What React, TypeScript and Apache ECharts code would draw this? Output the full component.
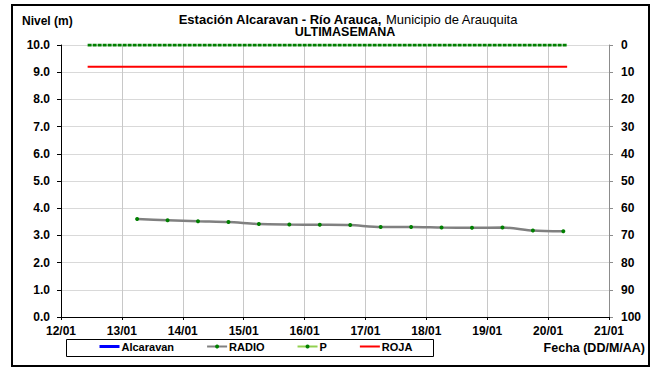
import React, { useEffect, useRef } from "react";
import * as echarts from "echarts";

const xTickLabels = ["12/01", "13/01", "14/01", "15/01", "16/01", "17/01", "18/01", "19/01", "20/01", "21/01"];
const radioTimes = [
  "13/01 06:00", "13/01 18:00", "14/01 06:00", "14/01 18:00", "15/01 06:00",
  "15/01 18:00", "16/01 06:00", "16/01 18:00", "17/01 06:00", "17/01 18:00",
  "18/01 06:00", "18/01 18:00", "19/01 06:00", "19/01 18:00", "20/01 06:00",
];
const radioValues = [3.6, 3.56, 3.52, 3.49, 3.42, 3.4, 3.39, 3.38, 3.31, 3.31, 3.29, 3.28, 3.29, 3.18, 3.15];
const alcaravanTimes: string[] = [];
const alcaravanValues: number[] = [];
const pTimes = ["12/01 10:30", "20/01 07:30"];
const pValues = [0, 0];
const rojaTimes = ["12/01 10:30", "20/01 07:30"];
const rojaValues = [9.2, 9.2];

const FONT = "Liberation Sans, Arial, sans-serif";

function toDay(s: string): number {
  const [d, t] = s.split(" ");
  const day = parseInt(d.split("/")[0], 10);
  const [h, m] = t.split(":").map((v) => parseInt(v, 10));
  return day + (h + m / 60) / 24;
}
function pairs(times: string[], vals: number[]) {
  return times.map((t, i) => [toDay(t), vals[i]]);
}

export default function App() {
  const ref = useRef<HTMLDivElement>(null);
  useEffect(() => {
    document.body.style.margin = "0";
    const chart = echarts.init(ref.current!, null, { renderer: "svg" });
    const labelStyle = { color: "#000", fontWeight: "bold" as const, fontSize: 12, fontFamily: FONT };
    chart.setOption({
      animation: false,
      backgroundColor: "#fff",
      grid: { left: 61, right: 49, top: 45, bottom: 52 },
      xAxis: {
        type: "value",
        min: 12,
        max: 21,
        interval: 1,
        axisLine: { lineStyle: { color: "#000", width: 1 } },
        axisTick: { show: true, length: 3, lineStyle: { color: "#000" } },
        axisLabel: {
          ...labelStyle,
          margin: 8,
          formatter: (v: number) => xTickLabels[Math.round(v) - 12] ?? "",
        },
        splitLine: { show: true, lineStyle: { color: "#c8c8c8", width: 1 } },
      },
      yAxis: [
        {
          type: "value",
          min: 0,
          max: 10,
          interval: 1,
          axisLine: { show: true, lineStyle: { color: "#000", width: 1 } },
          axisTick: { show: true, length: 4, lineStyle: { color: "#000" } },
          axisLabel: { ...labelStyle, margin: 11, formatter: (v: number) => v.toFixed(1) },
          splitLine: { show: true, lineStyle: { color: "#d9d9d9", width: 1 } },
        },
        {
          type: "value",
          min: 0,
          max: 100,
          interval: 10,
          inverse: true,
          position: "right",
          axisLine: { show: true, lineStyle: { color: "#8c8c8c", width: 1 } },
          axisTick: { show: true, length: 4, lineStyle: { color: "#8c8c8c" } },
          axisLabel: { ...labelStyle, margin: 12 },
          splitLine: { show: false },
        },
      ],
      legend: {
        left: 98,
        top: 341,
        orient: "horizontal",
        padding: 0,
        itemGap: 32,
        itemWidth: 20,
        itemHeight: 5,
        textStyle: { color: "#000", fontWeight: "bold", fontSize: 11, fontFamily: FONT, padding: [0, 0, 0, -3] },
        data: [
          { name: "Alcaravan", itemStyle: { opacity: 0 }, lineStyle: { color: "#0000ff", width: 3 } },
          { name: "RADIO" },
          { name: "P", lineStyle: { color: "#92d050", type: "solid", width: 2 }, itemStyle: { color: "#008000" } },
          { name: "ROJA", itemStyle: { opacity: 0 }, lineStyle: { color: "#ff0000", width: 2 } },
        ],
      },
      series: [
        {
          name: "Alcaravan",
          type: "line",
          data: pairs(alcaravanTimes, alcaravanValues),
          symbol: "none",
          lineStyle: { color: "#0000ff", width: 3 },
          itemStyle: { color: "#0000ff" },
        },
        {
          name: "RADIO",
          type: "line",
          data: pairs(radioTimes, radioValues),
          smooth: 0.25,
          symbol: "circle",
          symbolSize: 4,
          lineStyle: { color: "#808080", width: 2.5 },
          itemStyle: { color: "#008000" },
          z: 3,
        },
        {
          name: "P",
          type: "line",
          yAxisIndex: 1,
          data: pairs(pTimes, pValues),
          showSymbol: false,
          symbol: "circle",
          symbolSize: 4,
          lineStyle: { color: "#008000", width: 3, type: [4, 1] },
          itemStyle: { color: "#008000" },
          z: 4,
        },
        {
          name: "ROJA",
          type: "line",
          data: pairs(rojaTimes, rojaValues),
          symbol: "none",
          lineStyle: { color: "#ff0000", width: 2 },
          itemStyle: { color: "#ff0000" },
        },
      ],
      graphic: [
        {
          type: "rect",
          shape: { x: 12, y: 5, width: 637, height: 361 },
          style: { fill: "none", stroke: "#000", lineWidth: 2 },
          silent: true,
        },
        {
          type: "rect",
          shape: { x: 66.5, y: 339.5, width: 367, height: 17 },
          style: { fill: "none", stroke: "#000", lineWidth: 1 },
          silent: true,
        },
        {
          type: "text",
          x: 22,
          y: 21,
          style: { text: "Nivel (m)", fill: "#000", font: `bold 12px ${FONT}`, textVerticalAlign: "middle" },
        },
        {
          type: "text",
          x: 348,
          y: 19,
          style: {
            text: "{b|Estación Alcaravan - Río Arauca,}{n| Municipio de Arauquita}",
            textAlign: "center",
            textVerticalAlign: "middle",
            rich: {
              b: { fontWeight: "bold", fontSize: 13, lineHeight: 13, fontFamily: FONT, fill: "#000" },
              n: { fontWeight: "normal", fontSize: 13, lineHeight: 13, fontFamily: FONT, fill: "#000" },
            },
          },
        },
        {
          type: "text",
          x: 345,
          y: 32,
          style: {
            text: "ULTIMASEMANA",
            font: `bold 12.5px ${FONT}`,
            lineHeight: 12,
            fill: "#000",
            textAlign: "center",
            textVerticalAlign: "middle",
          },
        },
        {
          type: "text",
          x: 645,
          y: 348,
          style: {
            text: "Fecha (DD/M/AA)",
            font: `bold 12.5px ${FONT}`,
            fill: "#000",
            textAlign: "right",
            textVerticalAlign: "middle",
          },
        },
      ],
    });
    return () => chart.dispose();
  }, []);
  return <div ref={ref} style={{ position: "absolute", left: 0, top: 0, width: 658, height: 369 }} />;
}
